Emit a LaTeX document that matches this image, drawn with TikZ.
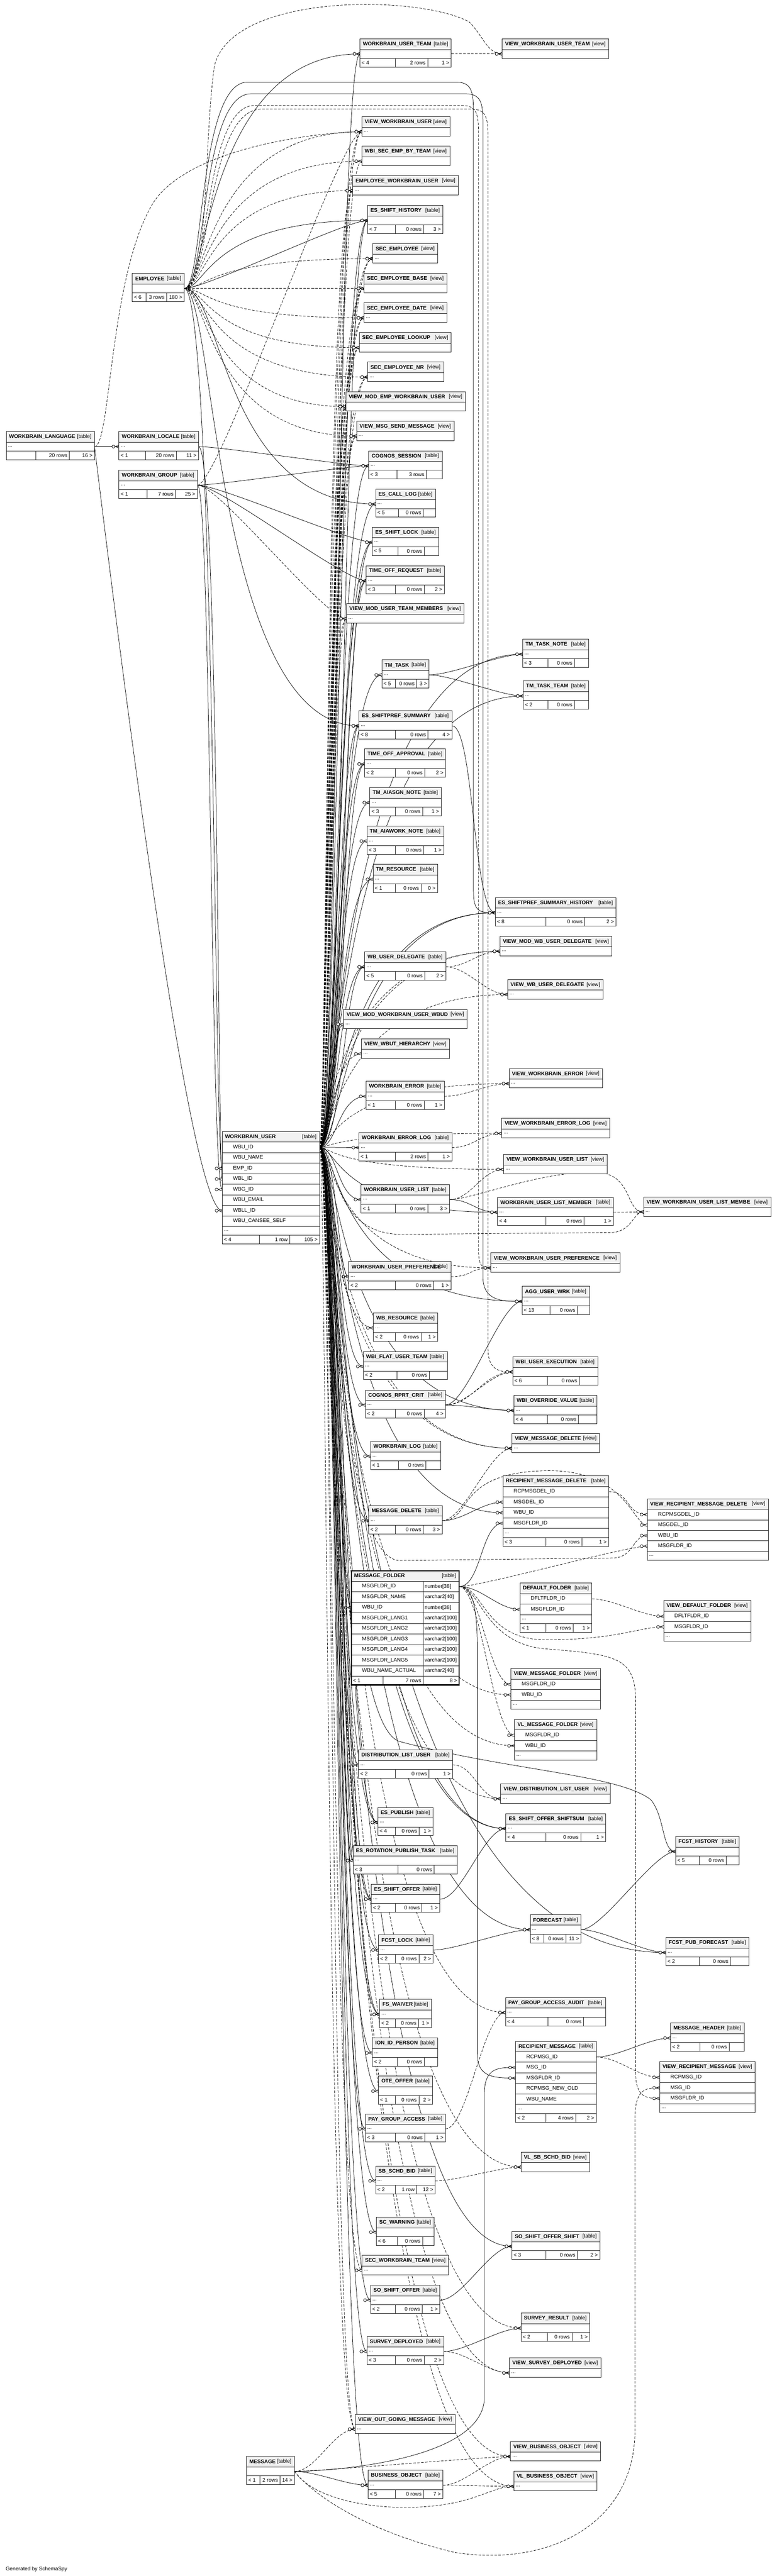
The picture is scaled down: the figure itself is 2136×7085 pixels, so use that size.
\documentclass[tikz,border=0pt]{standalone}
\usepackage{fontspec}
\setmainfont{Liberation Sans}
\usetikzlibrary{arrows.meta, calc, positioning}

\pgfdeclarelayer{bg}
\pgfsetlayers{bg,main}

\pgfdeclarearrow{
  name = erd,
  setup code = {
    \pgfarrowssettipend{0pt}
    \pgfarrowssetlineend{0pt}
    \pgfarrowssetbackend{-5.6pt}
    \pgfarrowshullpoint{0pt}{1.2pt}
    \pgfarrowshullpoint{0pt}{-1.2pt}
    \pgfarrowshullpoint{-5.6pt}{0pt}
  },
  drawing code = {
    \pgfsetdash{}{0pt}
    \pgfpathmoveto{\pgfqpoint{0pt}{1.1pt}}
    \pgfpathlineto{\pgfqpoint{-3.1pt}{0pt}}
    \pgfpathlineto{\pgfqpoint{0pt}{-1.1pt}}
    \pgfusepathqstroke
    \pgfpathcircle{\pgfqpoint{-4.3pt}{0pt}}{1.15pt}
    \pgfsetfillcolor{white}
    \pgfusepathqfillstroke
  }
}

\newcommand{\tabfont}{\fontsize{4.1}{5}\selectfont}

\tikzset{
  thead/.style={draw=black!85, fill=black!5, line width=0.35pt, anchor=north west, inner sep=0pt, outer sep=0pt, minimum height=0.29cm},
  trow/.style={draw=black!85, fill=white, line width=0.35pt, anchor=north west, inner sep=0pt, outer sep=0pt},
  ttxt/.style={anchor=west, inner sep=0pt, font=\tabfont},
  fk/.style={-erd, line width=0.3pt},
  vfk/.style={fk, dash pattern=on 2pt off 1.1pt}
}

% table pieces: header, rows, footer
\newcommand{\dbhead}[6]{%
  \def\tabw{#4}\def\tabprev{#1-h}%
  \node[thead, minimum width=#4*0.01cm] (#1-h) at (#2,#3) {};
  \node[ttxt] (#1-ht) at ([xshift=0.073cm]#1-h.west) {\textbf{#5}};
  \node[ttxt, anchor=east] (#1-hk) at ([xshift=-0.08cm]#1-h.east) {[#6]};
}
\newcommand{\dbrow}[2]{%
  \node[trow, minimum width=\tabw*0.01cm, minimum height=0.245cm] (#1) at (\tabprev.south west) {};
  \node[ttxt] (#1-x) at ([xshift=0.045cm]#1.west) {#2};
  \def\tabprev{#1}%
}
\newcommand{\dbcol}[2]{%
  \node[trow, minimum width=\tabw*0.01cm, minimum height=0.29cm] (#1) at (\tabprev.south west) {};
  \node[ttxt] (#1-x) at ([xshift=0.29cm]#1.west) {#2};
  \def\tabprev{#1}%
}
\newcommand{\dbtype}[3]{%
  \node[trow, minimum width=1.98cm, minimum height=0.29cm] (#1) at (\tabprev.south west) {};
  \node[trow, minimum width=(\tabw-198)*0.01cm, minimum height=0.29cm] (#1-t) at (#1.north east) {};
  \node[ttxt] (#1-x) at ([xshift=0.29cm]#1.west) {#2};
  \node[ttxt] (#1-y) at ([xshift=0.03cm]#1-t.west) {#3};
  \def\tabprev{#1}%
}
\newcommand{\dbfoot}[6]{%
  \node[trow, minimum width=#2*0.01cm, minimum height=0.24cm] (#1-fa) at (\tabprev.south west) {};
  \node[trow, minimum width=#3*0.01cm, minimum height=0.24cm] (#1-fb) at (#1-fa.north east) {};
  \node[trow, minimum width=(\tabw-#2-#3)*0.01cm, minimum height=0.24cm] (#1-fc) at (#1-fb.north east) {};
  \node[ttxt] (#1-ta) at ([xshift=0.04cm]#1-fa.west) {#4};
  \node[ttxt, anchor=east] (#1-tb) at ([xshift=-0.05cm]#1-fb.east) {#5};
  \node[ttxt, anchor=east] (#1-tc) at ([xshift=-0.05cm]#1-fc.east) {#6};
}
% connectors
\newcommand{\relto}[3]{\draw[#1] (#2.east) .. controls +(60,0) and +(-60,0) .. (#3.west);}
\newcommand{\relvia}[4]{\draw[#1] (#2.east) .. controls (#4 |- #2.east) and (#4 |- #3.west) .. (#3.west);}

\begin{document}
\begin{tikzpicture}[x=0.01cm, y=-0.01cm]
  \useasboundingbox (0,0) rectangle (2136,7085);

  \coordinate (tkU) at (928,0);
  \coordinate (tkU2) at (944,0);
  \coordinate (tkV) at (912,0);
  \coordinate (tkV2) at (898,0);
  \coordinate (tkE) at (590,0);
  \coordinate (tkF) at (570,0);
  \coordinate (tkF2) at (612,0);
  \coordinate (tkL) at (600,0);
  \coordinate (tkG) at (580,0);

  \dbhead{wlang}{17}{1187}{243}{WORKBRAIN\_LANGUAGE}{table}\dbrow{wlang}{...}\dbfoot{wlang}{81}{93}{}{20 rows}{16 >}
  \dbhead{wloc}{327}{1187}{219}{WORKBRAIN\_LOCALE}{table}\dbrow{wloc}{...}\dbfoot{wloc}{73}{85}{< 1}{20 rows}{11 >}
  \dbhead{wgrp}{327}{1293}{216}{WORKBRAIN\_GROUP}{table}\dbrow{wgrp}{...}\dbfoot{wgrp}{77}{79}{< 1}{7 rows}{25 >}
  \dbhead{emp}{364}{752}{143}{EMPLOYEE}{table}\dbrow{emp}{}\dbfoot{emp}{37}{57}{< 6}{3 rows}{180 >}

  \dbhead{wbu}{611}{3112}{268}{WORKBRAIN\_USER}{table}
  \dbcol{wbu-id}{WBU\_ID}
  \dbcol{wbu-name}{WBU\_NAME}
  \dbcol{wbu-emp}{EMP\_ID}
  \dbcol{wbu-wbl}{WBL\_ID}
  \dbcol{wbu-wbg}{WBG\_ID}
  \dbcol{wbu-mail}{WBU\_EMAIL}
  \dbcol{wbu-wbll}{WBLL\_ID}
  \dbcol{wbu-see}{WBU\_CANSEE\_SELF}
  \dbrow{wbu-dots}{...}
  \dbfoot{wbu}{102}{84}{< 4}{1 row}{105 >}

  \dbhead{msg}{678}{6756}{132}{MESSAGE}{table}\dbrow{msg}{}\dbfoot{msg}{37}{55}{< 1}{2 rows}{14 >}

  \dbhead{wut}{990}{107}{251}{WORKBRAIN\_USER\_TEAM}{table}\dbrow{wut}{}\dbfoot{wut}{97}{89}{< 4}{2 rows}{1 >}
  \dbhead{vwut}{1381}{107}{293}{VIEW\_WORKBRAIN\_USER\_TEAM}{view}\dbrow{vwut}{}
  \dbhead{vwu}{995}{321}{242}{VIEW\_WORKBRAIN\_USER}{view}\dbrow{vwu}{...}
  \dbhead{wsebt}{995}{402}{242}{WBI\_SEC\_EMP\_BY\_TEAM}{view}\dbrow{wsebt}{}
  \dbhead{ewu}{970}{483}{291}{EMPLOYEE\_WORKBRAIN\_USER}{view}\dbrow{ewu}{...}
  \dbhead{esh}{1011}{565}{207}{ES\_SHIFT\_HISTORY}{table}\dbrow{esh}{}\dbfoot{esh}{76}{78}{< 7}{0 rows}{3 >}
  \dbhead{sece}{1025}{670}{179}{SEC\_EMPLOYEE}{view}\dbrow{sece}{...}
  \dbhead{seceb}{1001}{752}{228}{SEC\_EMPLOYEE\_BASE}{view}\dbrow{seceb}{}
  \dbhead{secd}{1001}{833}{228}{SEC\_EMPLOYEE\_DATE}{view}\dbrow{secd}{...}
  \dbhead{secl}{988}{915}{253}{SEC\_EMPLOYEE\_LOOKUP}{view}\dbrow{secl}{}
  \dbhead{secnr}{1011}{996}{209}{SEC\_EMPLOYEE\_NR}{view}\dbrow{secnr}{...}
  \dbhead{vmewu}{951}{1077}{329}{VIEW\_MOD\_EMP\_WORKBRAIN\_USER}{view}\dbrow{vmewu}{}
  \dbhead{vmsm}{981}{1158}{268}{VIEW\_MSG\_SEND\_MESSAGE}{view}\dbrow{vmsm}{...}
  \dbhead{cogs}{1014}{1240}{202}{COGNOS\_SESSION}{table}\dbrow{cogs}{...}\dbfoot{cogs}{78}{81}{< 3}{3 rows}{}
  \dbhead{ecl}{1033}{1345}{165}{ES\_CALL\_LOG}{table}\dbrow{ecl}{...}\dbfoot{ecl}{63}{68}{< 5}{0 rows}{}
  \dbhead{eslk}{1024}{1450}{183}{ES\_SHIFT\_LOCK}{table}\dbrow{eslk}{...}\dbfoot{eslk}{70}{73}{< 5}{0 rows}{}
  \dbhead{tor}{1007}{1556}{215}{TIME\_OFF\_REQUEST}{table}\dbrow{tor}{...}\dbfoot{tor}{80}{80}{< 3}{0 rows}{2 >}
  \dbhead{vmutm}{953}{1660}{323}{VIEW\_MOD\_USER\_TEAM\_MEMBERS}{view}\dbrow{vmutm}{...}
  \dbhead{ttn}{1437}{1758}{182}{TM\_TASK\_NOTE}{table}\dbrow{ttn}{...}\dbfoot{ttn}{70}{73}{< 3}{0 rows}{}
  \dbhead{tt}{1050}{1815}{130}{TM\_TASK}{table}\dbrow{tt}{...}\dbfoot{tt}{38}{58}{< 5}{0 rows}{3 >}
  \dbhead{ttt}{1439}{1873}{180}{TM\_TASK\_TEAM}{table}\dbrow{ttt}{...}\dbfoot{ttt}{68}{73}{< 2}{0 rows}{}
  \dbhead{esps}{987}{1955}{256}{ES\_SHIFTPREF\_SUMMARY}{table}\dbrow{esps}{...}\dbfoot{esps}{101}{89}{< 8}{0 rows}{4 >}
  \dbhead{toa}{1003}{2060}{222}{TIME\_OFF\_APPROVAL}{table}\dbrow{toa}{...}\dbfoot{toa}{85}{80}{< 2}{0 rows}{2 >}
  \dbhead{tan}{1017}{2166}{196}{TM\_AIASGN\_NOTE}{table}\dbrow{tan}{...}\dbfoot{tan}{71}{74}{< 3}{0 rows}{1 >}
  \dbhead{tawn}{1009}{2272}{211}{TM\_AIAWORK\_NOTE}{table}\dbrow{tawn}{...}\dbfoot{tawn}{79}{77}{< 3}{0 rows}{1 >}
  \dbhead{tres}{1026}{2377}{177}{TM\_RESOURCE}{table}\dbrow{tres}{...}\dbfoot{tres}{62}{70}{< 1}{0 rows}{0 >}
  \dbhead{espsh}{1362}{2469}{332}{ES\_SHIFTPREF\_SUMMARY\_HISTORY}{table}\dbrow{espsh}{...}\dbfoot{espsh}{139}{107}{< 8}{0 rows}{2 >}
  \dbhead{vmwud}{1375}{2575}{308}{VIEW\_MOD\_WB\_USER\_DELEGATE}{view}\dbrow{vmwud}{...}
  \dbhead{wud}{1003}{2618}{223}{WB\_USER\_DELEGATE}{table}\dbrow{wud}{...}\dbfoot{wud}{85}{80}{< 5}{0 rows}{2 >}
  \dbhead{vwud}{1396}{2694}{263}{VIEW\_WB\_USER\_DELEGATE}{view}\dbrow{vwud}{...}
  \dbhead{vmwuw}{945}{2776}{340}{VIEW\_MOD\_WORKBRAIN\_USER\_WBUD}{view}\dbrow{vmwuw}{...}
  \dbhead{vwh}{994}{2857}{242}{VIEW\_WBUT\_HIERARCHY}{view}\dbrow{vwh}{...}
  \dbhead{vwe}{1400}{2939}{257}{VIEW\_WORKBRAIN\_ERROR}{view}\dbrow{vwe}{...}
  \dbhead{we}{1007}{2974}{215}{WORKBRAIN\_ERROR}{table}\dbrow{we}{...}\dbfoot{we}{81}{79}{< 1}{0 rows}{1 >}
  \dbhead{vwel}{1380}{3076}{297}{VIEW\_WORKBRAIN\_ERROR\_LOG}{view}\dbrow{vwel}{...}
  \dbhead{wel}{987}{3115}{256}{WORKBRAIN\_ERROR\_LOG}{table}\dbrow{wel}{...}\dbfoot{wel}{101}{89}{< 1}{2 rows}{1 >}
  \dbhead{vwul}{1385}{3175}{285}{VIEW\_WORKBRAIN\_USER\_LIST}{view}\dbrow{vwul}{...}
  \dbhead{wul}{993}{3258}{243}{WORKBRAIN\_USER\_LIST}{table}\dbrow{wul}{...}\dbfoot{wul}{95}{88}{< 1}{0 rows}{3 >}
  \dbhead{wulm}{1368}{3293}{319}{WORKBRAIN\_USER\_LIST\_MEMBER}{table}\dbrow{wulm}{...}\dbfoot{wulm}{133}{105}{< 4}{0 rows}{1 >}
  \dbhead{vwulm}{1770}{3292}{350}{VIEW\_WORKBRAIN\_USER\_LIST\_MEMBE}{view}\dbrow{vwulm}{...}
  \dbhead{vwup}{1350}{3446}{355}{VIEW\_WORKBRAIN\_USER\_PREFERENCE}{view}\dbrow{vwup}{...}
  \dbhead{wup}{959}{3470}{281}{WORKBRAIN\_USER\_PREFERENCE}{table}\dbrow{wup}{...}\dbfoot{wup}{129}{104}{< 2}{0 rows}{1 >}
  \dbhead{auw}{1436}{3538}{185}{AGG\_USER\_WRK}{table}\dbrow{auw}{...}\dbfoot{auw}{76}{76}{< 13}{0 rows}{}
  \dbhead{wres}{1027}{3611}{177}{WB\_RESOURCE}{table}\dbrow{wres}{...}\dbfoot{wres}{61}{70}{< 2}{0 rows}{1 >}
  \dbhead{wfut}{999}{3717}{231}{WBI\_FLAT\_USER\_TEAM}{table}\dbrow{wfut}{...}\dbfoot{wfut}{93}{89}{< 2}{0 rows}{}
  \dbhead{wue}{1410}{3732}{234}{WBI\_USER\_EXECUTION}{table}\dbrow{wue}{}\dbfoot{wue}{96}{87}{< 6}{0 rows}{}
  \dbhead{crc}{1005}{3823}{220}{COGNOS\_RPRT\_CRIT}{table}\dbrow{crc}{...}\dbfoot{crc}{83}{79}{< 2}{0 rows}{4 >}
  \dbhead{wov}{1413}{3838}{229}{WBI\_OVERRIDE\_VALUE}{table}\dbrow{wov}{...}\dbfoot{wov}{93}{85}{< 4}{0 rows}{}
  \dbhead{vmd}{1408}{3942}{241}{VIEW\_MESSAGE\_DELETE}{view}\dbrow{vmd}{...}
  \dbhead{wlog}{1019}{3964}{193}{WORKBRAIN\_LOG}{table}\dbrow{wlog}{...}\dbfoot{wlog}{77}{75}{< 1}{0 rows}{}

  \dbhead{rmd}{1383}{4059}{291}{RECIPIENT\_MESSAGE\_DELETE}{table}
  \dbcol{rmd-id}{RCPMSGDEL\_ID}\dbcol{rmd-msgdel}{MSGDEL\_ID}\dbcol{rmd-wbu}{WBU\_ID}\dbcol{rmd-fldr}{MSGFLDR\_ID}
  \dbrow{rmd-dots}{...}\dbfoot{rmd}{118}{99}{< 3}{0 rows}{1 >}
  \dbhead{vrmd}{1780}{4122}{333}{VIEW\_RECIPIENT\_MESSAGE\_DELETE}{view}
  \dbcol{vrmd-id}{RCPMSGDEL\_ID}\dbcol{vrmd-msgdel}{MSGDEL\_ID}\dbcol{vrmd-wbu}{WBU\_ID}\dbcol{vrmd-fldr}{MSGFLDR\_ID}
  \dbrow{vrmd-dots}{...}
  \dbhead{md}{1014}{4141}{202}{MESSAGE\_DELETE}{table}\dbrow{md}{...}\dbfoot{md}{74}{76}{< 2}{0 rows}{3 >}

  \dbhead{mf}{966}{4320}{297}{MESSAGE\_FOLDER}{table}
  \dbtype{mf-id}{MSGFLDR\_ID}{number[38]}
  \dbtype{mf-name}{MSGFLDR\_NAME}{varchar2[40]}
  \dbtype{mf-wbu}{WBU\_ID}{number[38]}
  \dbtype{mf-l1}{MSGFLDR\_LANG1}{varchar2[100]}
  \dbtype{mf-l2}{MSGFLDR\_LANG2}{varchar2[100]}
  \dbtype{mf-l3}{MSGFLDR\_LANG3}{varchar2[100]}
  \dbtype{mf-l4}{MSGFLDR\_LANG4}{varchar2[100]}
  \dbtype{mf-l5}{MSGFLDR\_LANG5}{varchar2[100]}
  \dbtype{mf-act}{WBU\_NAME\_ACTUAL}{varchar2[40]}
  \dbfoot{mf}{87}{111}{< 1}{7 rows}{8 >}
  \draw[line width=0.9pt] (mf-h.north west) rectangle (mf-fc.south east);

  \dbhead{df}{1430}{4354}{198}{DEFAULT\_FOLDER}{table}
  \dbcol{df-id}{DFLTFLDR\_ID}\dbcol{df-fldr}{MSGFLDR\_ID}\dbrow{df-dots}{...}\dbfoot{df}{71}{75}{< 1}{0 rows}{1 >}
  \dbhead{vdf}{1825}{4402}{240}{VIEW\_DEFAULT\_FOLDER}{view}
  \dbcol{vdf-id}{DFLTFLDR\_ID}\dbcol{vdf-fldr}{MSGFLDR\_ID}\dbrow{vdf-dots}{...}
  \dbhead{vmf}{1405}{4589}{246}{VIEW\_MESSAGE\_FOLDER}{view}
  \dbcol{vmf-fldr}{MSGFLDR\_ID}\dbcol{vmf-wbu}{WBU\_ID}\dbrow{vmf-dots}{...}
  \dbhead{vlmf}{1415}{4729}{226}{VL\_MESSAGE\_FOLDER}{view}
  \dbcol{vlmf-fldr}{MSGFLDR\_ID}\dbcol{vlmf-wbu}{WBU\_ID}\dbrow{vlmf-dots}{...}

  \dbhead{dlu}{986}{4813}{259}{DISTRIBUTION\_LIST\_USER}{table}\dbrow{dlu}{...}\dbfoot{dlu}{102}{92}{< 2}{0 rows}{1 >}
  \dbhead{vdlu}{1377}{4906}{301}{VIEW\_DISTRIBUTION\_LIST\_USER}{view}\dbrow{vdlu}{...}
  \dbhead{epub}{1039}{4971}{152}{ES\_PUBLISH}{table}\dbrow{epub}{...}\dbfoot{epub}{49}{65}{< 4}{0 rows}{1 >}
  \dbhead{esos}{1391}{4988}{275}{ES\_SHIFT\_OFFER\_SHIFTSUM}{table}\dbrow{esos}{...}\dbfoot{esos}{110}{96}{< 4}{0 rows}{1 >}
  \dbhead{fh}{1858}{5051}{175}{FCST\_HISTORY}{table}\dbrow{fh}{}\dbfoot{fh}{66}{73}{< 5}{0 rows}{}
  \dbhead{erpt}{971}{5076}{287}{ES\_ROTATION\_PUBLISH\_TASK}{table}\dbrow{erpt}{...}\dbfoot{erpt}{123}{100}{< 3}{0 rows}{}
  \dbhead{eso}{1021}{5182}{189}{ES\_SHIFT\_OFFER}{table}\dbrow{eso}{...}\dbfoot{eso}{67}{72}{< 2}{0 rows}{1 >}
  \dbhead{fc}{1458}{5266}{140}{FORECAST}{table}\dbrow{fc}{...}\dbfoot{fc}{37}{61}{< 8}{0 rows}{11 >}
  \dbhead{flk}{1041}{5322}{150}{FCST\_LOCK}{table}\dbrow{flk}{...}\dbfoot{flk}{47}{64}{< 2}{0 rows}{2 >}
  \dbhead{fpf}{1831}{5329}{229}{FCST\_PUB\_FORECAST}{table}\dbrow{fpf}{...}\dbfoot{fpf}{93}{85}{< 2}{0 rows}{}
  \dbhead{pgaa}{1390}{5494}{275}{PAY\_GROUP\_ACCESS\_AUDIT}{table}\dbrow{pgaa}{...}\dbfoot{pgaa}{117}{98}{< 4}{0 rows}{}
  \dbhead{fsw}{1044}{5499}{142}{FS\_WAIVER}{table}\dbrow{fsw}{...}\dbfoot{fsw}{44}{63}{< 2}{0 rows}{1 >}
  \dbhead{mh}{1844}{5564}{203}{MESSAGE\_HEADER}{table}\dbrow{mh}{...}\dbfoot{mh}{81}{80}{< 2}{0 rows}{}
  \dbhead{iip}{1024}{5605}{180}{ION\_ID\_PERSON}{table}\dbrow{iip}{...}\dbfoot{iip}{69}{74}{< 2}{0 rows}{}

  \dbhead{rm}{1418}{5614}{222}{RECIPIENT\_MESSAGE}{table}
  \dbcol{rm-id}{RCPMSG\_ID}\dbcol{rm-msg}{MSG\_ID}\dbcol{rm-fldr}{MSGFLDR\_ID}\dbcol{rm-new}{RCPMSG\_NEW\_OLD}\dbcol{rm-wbu}{WBU\_NAME}
  \dbrow{rm-dots}{...}\dbfoot{rm}{83}{82}{< 2}{4 rows}{2 >}
  \dbhead{vrm}{1814}{5670}{263}{VIEW\_RECIPIENT\_MESSAGE}{view}
  \dbcol{vrm-id}{RCPMSG\_ID}\dbcol{vrm-msg}{MSG\_ID}\dbcol{vrm-fldr}{MSGFLDR\_ID}\dbrow{vrm-dots}{...}

  \dbhead{ote}{1041}{5710}{149}{OTE\_OFFER}{table}\dbrow{ote}{}\dbfoot{ote}{47}{64}{< 1}{0 rows}{2 >}
  \dbhead{pga}{1005}{5814}{220}{PAY\_GROUP\_ACCESS}{table}\dbrow{pga}{...}\dbfoot{pga}{83}{80}{< 3}{0 rows}{1 >}
  \dbhead{vlsb}{1433}{5919}{189}{VL\_SB\_SCHD\_BID}{view}\dbrow{vlsb}{}
  \dbhead{sbb}{1033}{5957}{164}{SB\_SCHD\_BID}{table}\dbrow{sbb}{...}\dbfoot{sbb}{55}{58}{< 2}{1 row}{12 >}
  \dbhead{scw}{1035}{6098}{159}{SC\_WARNING}{table}\dbrow{scw}{}\dbfoot{scw}{58}{69}{< 6}{0 rows}{}
  \dbhead{soss}{1408}{6137}{242}{SO\_SHIFT\_OFFER\_SHIFT}{table}\dbrow{soss}{}\dbfoot{soss}{93}{87}{< 3}{0 rows}{2 >}
  \dbhead{swt}{996}{6203}{238}{SEC\_WORKBRAIN\_TEAM}{view}\dbrow{swt}{...}
  \dbhead{sso}{1019}{6285}{191}{SO\_SHIFT\_OFFER}{table}\dbrow{sso}{...}\dbfoot{sso}{69}{73}{< 2}{0 rows}{1 >}
  \dbhead{svr}{1433}{6362}{189}{SURVEY\_RESULT}{table}\dbrow{svr}{}\dbfoot{svr}{73}{67}{< 2}{0 rows}{1 >}
  \dbhead{svd}{1009}{6426}{211}{SURVEY\_DEPLOYED}{table}\dbrow{svd}{...}\dbfoot{svd}{79}{79}{< 3}{0 rows}{2 >}
  \dbhead{vsvd}{1401}{6485}{252}{VIEW\_SURVEY\_DEPLOYED}{view}\dbrow{vsvd}{...}
  \dbhead{vogm}{977}{6640}{275}{VIEW\_OUT\_GOING\_MESSAGE}{view}\dbrow{vogm}{...}
  \dbhead{vbo}{1404}{6715}{248}{VIEW\_BUSINESS\_OBJECT}{view}\dbrow{vbo}{...}
  \dbhead{bo}{1012}{6794}{206}{BUSINESS\_OBJECT}{table}\dbrow{bo}{...}\dbfoot{bo}{76}{77}{< 5}{0 rows}{7 >}
  \dbhead{vlbo}{1413}{6797}{229}{VL\_BUSINESS\_OBJECT}{view}\dbrow{vlbo}{...}

  \node[ttxt, anchor=base west] (gen) at (15,7070) {Generated by SchemaSpy};

  \begin{pgfonlayer}{bg}
    % into WORKBRAIN_USER
    \relvia{fk}{emp}{wbu-emp}{tkE}
    \relvia{fk}{wloc}{wbu-wbl}{tkL}
    \relvia{fk}{wgrp}{wbu-wbg}{tkG}
    \draw[fk] (wlang.east) .. controls (330,1800) and (520,3330) .. (wbu-wbll.west);
    \relto{fk}{wlang}{wloc}
    \draw[vfk] (wlang.east) .. controls (305,1228) and (300,760) .. (420,560) .. controls (520,400) and (900,362) .. (vwu.west);

    % EMPLOYEE
    \relvia{fk}{emp}{wut}{tkF}
    \relvia{vfk}{emp}{vwu}{tkF}
    \relvia{vfk}{emp}{wsebt}{tkF}
    \relvia{vfk}{emp}{ewu}{tkF}
    \relto{fk}{emp}{esh}
    \relvia{fk}{emp}{esh}{tkF}
    \relvia{vfk}{emp}{sece}{tkF}
    \relto{vfk}{emp}{seceb}
    \relvia{vfk}{emp}{secd}{tkF}
    \relvia{vfk}{emp}{secl}{tkF}
    \relvia{vfk}{emp}{secnr}{tkF}
    \relvia{vfk}{emp}{vmewu}{tkF}
    \relvia{vfk}{emp}{vmsm}{tkF}
    \relvia{fk}{emp}{ecl}{tkF2}
    \relvia{fk}{emp}{esps}{tkE}
    \draw[vfk] (emp.east) .. controls (575,793) and (560,380) .. (590,180) .. controls (640,-20) and (1150,-15) .. (1290,60) .. controls (1330,100) and (1340,148) .. (vwut.west);
    \draw[fk] (emp.east) .. controls (560,793) and (545,226) .. (680,226) -- (1255,226) .. controls (1302,226) and (1302,260) .. (1302,320) -- (1302,2450) .. controls (1302,2510) and (1320,2510) .. (espsh.west);
    \draw[fk] (emp.east) .. controls (568,793) and (552,258) .. (690,258) -- (1280,258) .. controls (1328,258) and (1328,290) .. (1328,350) -- (1328,3510) .. controls (1328,3579) and (1380,3579) .. (auw.west);
    \draw[vfk] (emp.east) .. controls (575,793) and (560,290) .. (700,290) -- (1270,290) .. controls (1316,290) and (1316,320) .. (1316,380) -- (1316,3440) .. controls (1316,3487) and (1330,3487) .. (vwup.west);
    \draw[vfk] (emp.east) .. controls (580,793) and (566,300) .. (720,300) -- (1295,300) .. controls (1342,300) and (1342,330) .. (1342,390) -- (1342,3710) .. controls (1342,3773) and (1380,3773) .. (wue.west);

    % WORKBRAIN_LOCALE, WORKBRAIN_GROUP
    \relto{fk}{wloc}{cogs}
    \relto{fk}{wgrp}{cogs}
    \relto{fk}{wgrp}{eslk}
    \relto{fk}{wgrp}{tor}
    \relto{vfk}{wgrp}{vmutm}
    \relto{vfk}{wgrp}{vwu}

    % WORKBRAIN_USER fan
    \relvia{fk}{wbu-id}{wut}{tkU}
    \relvia{fk}{wbu-id}{esh}{tkU}
    \relvia{fk}{wbu-id}{esh}{tkU2}
    \relvia{fk}{wbu-id}{cogs}{tkU}
    \relvia{fk}{wbu-id}{ecl}{tkU}
    \relvia{fk}{wbu-id}{eslk}{tkU}
    \relvia{fk}{wbu-id}{eslk}{tkU2}
    \relvia{fk}{wbu-id}{tor}{tkU}
    \relvia{fk}{wbu-id}{tor}{tkU2}
    \relvia{fk}{wbu-id}{tt}{tkU}
    \relvia{fk}{wbu-id}{ttn}{tkU}
    \relvia{fk}{wbu-id}{ttt}{tkU}
    \relvia{fk}{wbu-id}{esps}{tkU}
    \relvia{fk}{wbu-id}{esps}{tkU2}
    \relvia{fk}{wbu-id}{toa}{tkU}
    \relvia{fk}{wbu-id}{toa}{tkU2}
    \relvia{fk}{wbu-id}{tan}{tkU}
    \relvia{fk}{wbu-id}{tawn}{tkU}
    \relvia{fk}{wbu-id}{tres}{tkU}
    \relvia{fk}{wbu-id}{espsh}{tkU}
    \relvia{fk}{wbu-id}{espsh}{tkU2}
    \relvia{fk}{wbu-id}{wud}{tkU}
    \relvia{fk}{wbu-id}{wud}{tkU2}
    \relvia{fk}{wbu-id}{we}{tkU}
    \relvia{fk}{wbu-id}{wel}{tkU}
    \relvia{fk}{wbu-id}{wul}{tkU}
    \relvia{fk}{wbu-id}{wulm}{tkU}
    \relvia{fk}{wbu-id}{wup}{tkU}
    \relvia{fk}{wbu-id}{wfut}{tkU}
    \relvia{fk}{wbu-id}{crc}{tkU}
    \relvia{fk}{wbu-id}{wov}{tkU}
    \relvia{fk}{wbu-id}{auw}{tkU}
    \relvia{fk}{wbu-id}{wlog}{tkU}
    \relvia{fk}{wbu-id}{md}{tkU}
    \relvia{fk}{wbu-id}{rmd-wbu}{tkU}
    \relvia{fk}{wbu-id}{mf-wbu}{tkU}
    \relvia{fk}{wbu-id}{dlu}{tkU}
    \relvia{fk}{wbu-id}{epub}{tkU}
    \relvia{fk}{wbu-id}{epub}{tkU2}
    \relvia{fk}{wbu-id}{esos}{tkU}
    \relvia{fk}{wbu-id}{esos}{tkU2}
    \relvia{fk}{wbu-id}{erpt}{tkU}
    \relvia{fk}{wbu-id}{erpt}{tkU2}
    \relvia{fk}{wbu-id}{eso}{tkU}
    \relvia{fk}{wbu-id}{eso}{tkU2}
    \relvia{fk}{wbu-id}{fc}{tkU}
    \relvia{fk}{wbu-id}{flk}{tkU}
    \relvia{fk}{wbu-id}{fpf}{tkU}
    \relvia{fk}{wbu-id}{fsw}{tkU}
    \relvia{fk}{wbu-id}{fsw}{tkU2}
    \relvia{fk}{wbu-id}{iip}{tkU}
    \relvia{fk}{wbu-id}{ote}{tkU}
    \relvia{fk}{wbu-id}{pga}{tkU}
    \relvia{fk}{wbu-id}{sbb}{tkU}
    \relvia{fk}{wbu-id}{scw}{tkU}
    \relvia{fk}{wbu-id}{soss}{tkU}
    \relvia{fk}{wbu-id}{sso}{tkU}
    \relvia{fk}{wbu-id}{svd}{tkU}
    \relvia{fk}{wbu-id}{bo}{tkU}
    \draw[fk] (wbu-id.east) .. controls (930,3156) and (915,4740) .. (1100,4790) .. controls (1400,4870) and (1700,4880) .. (1790,4950) .. controls (1830,5000) and (1820,5092) .. (fh.west);

    \relvia{vfk}{wbu-id}{vwu}{tkV}
    \relvia{vfk}{wbu-id}{vwu}{tkV2}
    \relvia{vfk}{wbu-id}{wsebt}{tkV}
    \relvia{vfk}{wbu-id}{ewu}{tkV}
    \relvia{vfk}{wbu-id}{ewu}{tkV2}
    \relvia{vfk}{wbu-id}{sece}{tkV}
    \relvia{vfk}{wbu-id}{sece}{tkV2}
    \relvia{vfk}{wbu-id}{seceb}{tkV}
    \relvia{vfk}{wbu-id}{seceb}{tkV2}
    \relvia{vfk}{wbu-id}{secd}{tkV}
    \relvia{vfk}{wbu-id}{secd}{tkV2}
    \relvia{vfk}{wbu-id}{secl}{tkV}
    \relvia{vfk}{wbu-id}{secl}{tkV2}
    \relvia{vfk}{wbu-id}{secnr}{tkV}
    \relvia{vfk}{wbu-id}{secnr}{tkV2}
    \relvia{vfk}{wbu-id}{vmewu}{tkV}
    \relvia{vfk}{wbu-id}{vmewu}{tkV2}
    \relvia{vfk}{wbu-id}{vmsm}{tkV}
    \relvia{vfk}{wbu-id}{vmsm}{tkV2}
    \relvia{vfk}{wbu-id}{vmutm}{tkV}
    \relvia{vfk}{wbu-id}{vmutm}{tkV2}
    \relvia{vfk}{wbu-id}{vmwud}{tkV}
    \relvia{vfk}{wbu-id}{vmwud}{tkV2}
    \relvia{vfk}{wbu-id}{vwud}{tkV}
    \relvia{vfk}{wbu-id}{vmwuw}{tkV}
    \relvia{vfk}{wbu-id}{vwh}{tkV}
    \relvia{vfk}{wbu-id}{vwe}{tkV}
    \relvia{vfk}{wbu-id}{vwel}{tkV}
    \relvia{vfk}{wbu-id}{vwul}{tkV}
    \relvia{vfk}{wbu-id}{vwup}{tkV}
    \relvia{vfk}{wbu-id}{wres}{tkV}
    \relvia{vfk}{wbu-id}{vmd}{tkV}
    \relvia{vfk}{wbu-id}{vmd}{tkV2}
    \relvia{vfk}{wbu-id}{vmf-wbu}{tkV}
    \relvia{vfk}{wbu-id}{vlmf-wbu}{tkV}
    \relvia{vfk}{wbu-id}{vdlu}{tkV}
    \relvia{vfk}{wbu-id}{pgaa}{tkV}
    \relvia{vfk}{wbu-id}{vlsb}{tkV}
    \relvia{vfk}{wbu-id}{swt}{tkV}
    \relvia{vfk}{wbu-id}{svr}{tkV}
    \relvia{vfk}{wbu-id}{vsvd}{tkV}
    \relvia{vfk}{wbu-id}{vogm}{tkV}
    \relvia{vfk}{wbu-id}{vogm}{tkV2}
    \relvia{vfk}{wbu-id}{vbo}{tkV}
    \relvia{vfk}{wbu-id}{vlbo}{tkV}
    \draw[vfk] (wbu-id.east) .. controls (930,3156) and (900,3390) .. (1100,3395) -- (1680,3390) .. controls (1740,3388) and (1740,3333) .. (vwulm.west);
    \draw[vfk] (wbu-id.east) .. controls (930,3156) and (910,4290) .. (1100,4292) -- (1690,4285) .. controls (1745,4280) and (1740,4223) .. (vrmd-wbu.west);

    % between the other tables
    \relto{vfk}{wut}{vwut}
    \relto{fk}{tt}{ttn}
    \relto{fk}{tt}{ttt}
    \relto{fk}{esps}{espsh}
    \relto{vfk}{wud}{vmwud}
    \relto{vfk}{wud}{vwud}
    \relto{vfk}{we}{vwe}
    \relto{vfk}{wel}{vwel}
    \relto{vfk}{wul}{vwul}
    \relto{fk}{wul}{wulm}
    \relto{vfk}{wulm}{vwulm}
    \draw[vfk] (wul.east) .. controls (1300,3299) and (1500,3215) .. (1650,3225) .. controls (1740,3235) and (1720,3333) .. (vwulm.west);
    \relto{vfk}{wup}{vwup}
    \relto{fk}{crc}{auw}
    \relto{vfk}{crc}{wue}
    \draw[vfk] (crc.east) .. controls (1300,3864) and (1330,3773) .. (wue.west);
    \relto{fk}{crc}{wov}
    \relto{vfk}{md}{vmd}
    \relto{fk}{md}{rmd-msgdel}
    \draw[vfk] (md.east) .. controls (1300,4182) and (1250,4050) .. (1500,4045) .. controls (1720,4040) and (1740,4194) .. (vrmd-msgdel.west);
    \relto{vfk}{rmd-id}{vrmd-id}
    \relto{fk}{mf-id-t}{rmd-fldr}
    \relto{vfk}{mf-id-t}{vrmd-fldr}
    \relto{fk}{mf-id-t}{df-fldr}
    \draw[vfk] (mf-id-t.east) .. controls (1330,4363) and (1330,4510) .. (1500,4510) .. controls (1700,4510) and (1760,4474) .. (vdf-fldr.west);
    \relto{vfk}{mf-id-t}{vmf-fldr}
    \relto{vfk}{mf-id-t}{vlmf-fldr}
    \relto{vfk}{df-id}{vdf-id}
    \draw[fk] (mf-id-t.east) .. controls (1300,4363) and (1313,4420) .. (1313,4550) -- (1313,5650) .. controls (1313,5715) and (1360,5715) .. (rm-fldr.west);
    \draw[vfk] (mf-id-t.east) .. controls (1320,4363) and (1330,4520) .. (1500,4535) .. controls (1700,4550) and (1748,4560) .. (1748,4680) -- (1748,5700) .. controls (1748,5771) and (1780,5771) .. (vrm-fldr.west);
    \relto{vfk}{dlu}{vdlu}
    \relto{fk}{eso}{esos}
    \relto{fk}{fc}{fh}
    \relto{fk}{fc}{fpf}
    \relto{fk}{flk}{fc}
    \relto{vfk}{pga}{pgaa}
    \relto{fk}{rm-id}{mh}
    \relto{vfk}{rm-id}{vrm-id}
    \relto{vfk}{sbb}{vlsb}
    \relto{fk}{sso}{soss}
    \relto{fk}{svd}{svr}
    \relto{vfk}{svd}{vsvd}
    \relto{vfk}{bo}{vbo}
    \relto{vfk}{bo}{vlbo}

    % MESSAGE
    \relto{vfk}{msg}{vogm}
    \relto{fk}{msg}{bo}
    \relto{vfk}{msg}{vbo}
    \draw[vfk] (msg.east) .. controls (880,6900) and (1150,6920) .. (1300,6870) .. controls (1360,6850) and (1380,6838) .. (vlbo.west);
    \draw[fk] (msg.east) .. controls (900,6797) and (1320,6770) .. (1332,6600) -- (1332,5760) .. controls (1332,5686) and (1370,5686) .. (rm-msg.west);
    \draw[vfk] (msg.east) .. controls (860,6860) and (1000,6960) .. (1250,7020) .. controls (1500,7060) and (1735,6950) .. (1746,6700) -- (1746,5820) .. controls (1748,5742) and (1780,5742) .. (vrm-msg.west);
  \end{pgfonlayer}
\end{tikzpicture}
\end{document}
